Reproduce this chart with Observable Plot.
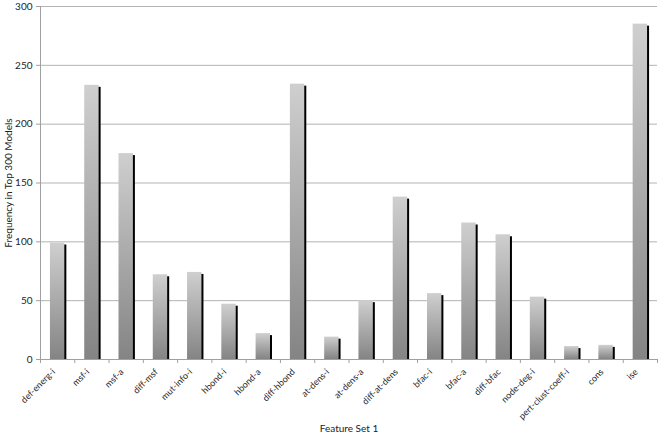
<!DOCTYPE html>
<html><head><meta charset="utf-8">
<script src="https://cdn.jsdelivr.net/npm/d3@7"></script>
<script src="https://cdn.jsdelivr.net/npm/@observablehq/plot@0.6"></script>
<style>
html,body{margin:0;padding:0;background:#fff;}
svg{font-family:Lato,"Open Sans",sans-serif;}
</style></head>
<body><div id="chart"></div>
<script>
const categories = ["def-energ-i","msf-i","msf-a","diff-msf","mut-info-i","hbond-i","hbond-a","diff-hbond","at-dens-i","at-dens-a","diff-at-dens","bfac-i","bfac-a","diff-bfac","node-deg-i","pert-clust-coeff-i","cons","ise"];
const values = [99,233,175,72,74,47,22,234,19,50,138,56,116,106,53,11,12,285];
const yTicks = [0,50,100,150,200,250,300];

const data = categories.map((c,i)=>({c, i, v: values[i]}));
const n = categories.length;

const chart = Plot.plot({
  width: 662, height: 437,
  marginLeft: 40, marginRight: 5, marginTop: 6, marginBottom: 78,
  style: {fontFamily: "Lato, 'Open Sans', sans-serif", fontSize: "10px", background: "#fff", overflow: "visible"},
  x: {type: "linear", domain: [0, n]},
  y: {domain: [0, 300]},
  marks: [
    Plot.ruleY(yTicks.slice(1), {stroke: "#b4b4b4", strokeWidth: 1, x1: 0, x2: n, dx: 0}),
    Plot.rectY(data, {x1: d=>d.i+0.29, x2: d=>d.i+0.71, y: "v", fill: "#000", dx: 2, dy: 2, insetBottom: 2}),
    Plot.rectY(data, {x1: d=>d.i+0.29, x2: d=>d.i+0.71, y: "v", fill: "url(#barGrad)"}),
    Plot.ruleX([0], {stroke: "#a0a0a0"}),
    Plot.ruleY([0], {stroke: "#a0a0a0"}),
    Plot.axisY({ticks: yTicks, tickSize: 4, tickPadding: 4, stroke: "#a0a0a0", fill: "#222",
      label: "Frequency in Top 300 Models", labelAnchor: "center", labelArrow: "none", labelOffset: 36}),
    Plot.axisX({ticks: d3.range(0, n+1), tickSize: 4, tickFormat: () => "", stroke: "#a0a0a0", label: null}),
    Plot.axisX({ticks: d3.range(0, n).map(i=>i+0.5), tickSize: 0, tickFormat: d => categories[Math.floor(d)],
      tickRotate: -45, tickPadding: 11, dx: -4, fill: "#222", fontSize: 9,
      label: null}),
    Plot.axisX({ticks: [], tickSize: 0, label: "Feature Set 1", labelAnchor: "center", labelArrow: "none", labelOffset: 72, fill: "#222"})
  ]
});

const ns = "http://www.w3.org/2000/svg";
const defs = document.createElementNS(ns, "defs");
defs.innerHTML = '<linearGradient id="barGrad" x1="0" y1="0" x2="0" y2="1"><stop offset="0" stop-color="#cfcfcf"/><stop offset="1" stop-color="#848484"/></linearGradient>';
chart.insertBefore(defs, chart.firstChild);
document.getElementById("chart").appendChild(chart);
</script></body></html>
